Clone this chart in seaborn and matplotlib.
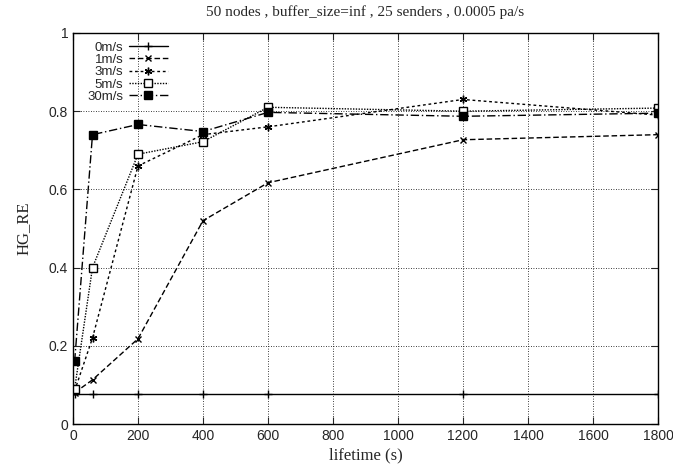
import matplotlib
matplotlib.use("Agg")
import matplotlib.pyplot as plt
import seaborn as sns
import pandas as pd

lifetime = [5, 60, 200, 400, 600, 1200, 1800]
series_names = ["0m/s", "1m/s", "3m/s", "5m/s", "30m/s"]
v0 = [0.077, 0.077, 0.077, 0.077, 0.077, 0.077, 0.077]
v1 = [0.080, 0.113, 0.218, 0.520, 0.617, 0.727, 0.740]
v3 = [0.085, 0.220, 0.660, 0.740, 0.760, 0.830, 0.790]
v5 = [0.090, 0.400, 0.690, 0.722, 0.810, 0.800, 0.808]
v30 = [0.160, 0.740, 0.766, 0.748, 0.797, 0.787, 0.795]
values = [v0, v1, v3, v5, v30]

rows = []
for name, vals in zip(series_names, values):
    for x, y in zip(lifetime, vals):
        rows.append({"lifetime": x, "HG_RE": y, "speed": name})
df = pd.DataFrame(rows)

sns.set_style("ticks")
plt.rcParams["font.family"] = ["Liberation Sans", "DejaVu Sans"]

fig = plt.figure(figsize=(6.73, 4.68), dpi=100)
ax = fig.add_axes([73/673, 44/468, 585/673, 391/468])

styles = {
    "0m/s": dict(ls="-", marker="+", ms=6, mfc="black"),
    "1m/s": dict(ls=(0, (4, 2)), marker="x", ms=5, mfc="black"),
    "3m/s": dict(ls=(0, (2, 2)), marker=(6, 2, 0), ms=5.5, mfc="black"),
    "5m/s": dict(ls=(0, (1, 1)), marker="s", ms=5.5, mfc="white"),
    "30m/s": dict(ls=(0, (6, 2, 1, 2)), marker="s", ms=5.5, mfc="black"),
}
for name in series_names:
    st = styles[name]
    sub = df[df["speed"] == name]
    sns.lineplot(data=sub, x="lifetime", y="HG_RE", ax=ax, color="black",
                 linestyle=st["ls"], marker=st["marker"], markersize=st["ms"],
                 markerfacecolor=st["mfc"], markeredgecolor="black",
                 markeredgewidth=1.0, linewidth=1.0, label=name)

ax.set_xlim(0, 1800)
ax.set_ylim(0, 1)
ax.set_xticks(range(0, 1801, 200))
ax.set_yticks([0, 0.2, 0.4, 0.6, 0.8, 1])
ax.set_yticklabels(["0", "0.2", "0.4", "0.6", "0.8", "1"])
ax.grid(True, color="black", linestyle=(0, (1, 2)), linewidth=0.6)
ax.tick_params(direction="in", length=5, labelsize=10, top=True, right=True)
for s in ax.spines.values():
    s.set_linewidth(1.0)
    s.set_color("black")

ax.set_xlabel("lifetime (s)", family="Liberation Serif", fontsize=12, labelpad=3)
ax.set_ylabel("HG_RE", family="Liberation Serif", fontsize=12, labelpad=12)
ax.set_title("50 nodes , buffer_size=inf , 25 senders , 0.0005 pa/s",
             family="Liberation Serif", fontsize=11, pad=12)

leg = ax.legend(loc="upper left", markerfirst=False, frameon=False,
                fontsize=9.5, handlelength=3.0, labelspacing=0.0,
                borderaxespad=0.25, handletextpad=0.4,
                bbox_to_anchor=(0.01, 1.0))

fig.savefig("out.png", dpi=100)
